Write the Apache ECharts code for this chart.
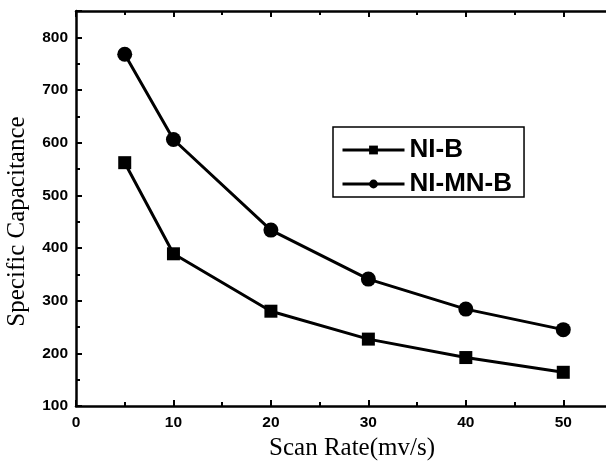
<!DOCTYPE html>
<html>
<head>
<meta charset="utf-8">
<script src="https://cdn.jsdelivr.net/npm/echarts@6/dist/echarts.min.js"></script>
<style>
  html, body { margin: 0; padding: 0; background: #fff; }
  #chart { width: 606px; height: 461px; }
</style>
</head>
<body>
<div id="chart"></div>
<script>
// scan rates (mv/s)
const scanRates = [5, 10, 20, 30, 40, 50];
// specific capacitance values
const niB = [562, 389, 280, 227, 192, 164];
const niMnB = [768, 606, 434, 341, 284, 245];
const seriesNames = ["NI-B", "NI-MN-B"];

const toPairs = (ys) => scanRates.map((x, i) => [x, ys[i]]);

const myChart = echarts.init(document.getElementById("chart"));

const axisLine = { show: true, lineStyle: { color: "#000", width: 2.5 } };
const majorTick = { inside: true, length: 6, lineStyle: { color: "#000", width: 2 } };
const minorTick = { show: true, splitNumber: 2, length: 4, lineStyle: { color: "#000", width: 2 } };
const tickLabel = {
  color: "#000",
  fontFamily: "Liberation Sans, Arial",
  fontWeight: "bold",
  fontSize: 15.5,
};
const nameFont = {
  color: "#000",
  fontFamily: "Liberation Serif, Times New Roman",
  fontSize: 25,
};

const option = {
  animation: false,
  grid: { left: 76, top: 11, right: -6, bottom: 55, outerBoundsMode: "none", containLabel: false },
  legend: {
    data: seriesNames,
    orient: "vertical",
    left: 333,
    top: 127,
    itemWidth: 62,
    itemHeight: 11,
    itemGap: 8,
    padding: [10, 12, 0, 8],
    borderColor: "#000",
    borderWidth: 1.5,
    lineStyle: { width: 3 },
    textStyle: {
      color: "#000",
      fontFamily: "Liberation Sans, Arial",
      fontWeight: "bold",
      fontSize: 26,
    },
  },
  xAxis: [
    {
      type: "value",
      min: 0,
      max: 55,
      interval: 10,
      name: "Scan Rate(mv/s)",
      nameLocation: "middle",
      nameGap: 28,
      nameTextStyle: Object.assign({ padding: [0, 0, 0, 16] }, nameFont),
      axisLine: axisLine,
      axisTick: majorTick,
      minorTick: minorTick,
      axisLabel: Object.assign({ margin: 9, showMaxLabel: false }, tickLabel),
      splitLine: { show: false },
    },
    {
      type: "value",
      position: "top",
      min: 0,
      max: 55,
      interval: 10,
      axisLine: axisLine,
      axisTick: majorTick,
      minorTick: minorTick,
      axisLabel: { show: false },
      splitLine: { show: false },
    },
  ],
  yAxis: {
    type: "value",
    min: 100,
    max: 850,
    interval: 100,
    name: "Specific Capacitance",
    nameLocation: "middle",
    nameGap: 46,
    nameTextStyle: Object.assign({ padding: [0, 26, 0, 0] }, nameFont),
    axisLine: axisLine,
    axisTick: majorTick,
    minorTick: minorTick,
    axisLabel: Object.assign({ margin: 8, showMaxLabel: false }, tickLabel),
    splitLine: { show: false },
  },
  series: [
    {
      name: seriesNames[0],
      type: "line",
      data: toPairs(niB),
      symbol: "rect",
      symbolSize: 13,
      itemStyle: { color: "#000" },
      lineStyle: { color: "#000", width: 3 },
    },
    {
      name: seriesNames[1],
      type: "line",
      data: toPairs(niMnB),
      symbol: "circle",
      symbolSize: 15,
      itemStyle: { color: "#000" },
      lineStyle: { color: "#000", width: 3 },
    },
  ],
};

myChart.setOption(option);
</script>
</body>
</html>
